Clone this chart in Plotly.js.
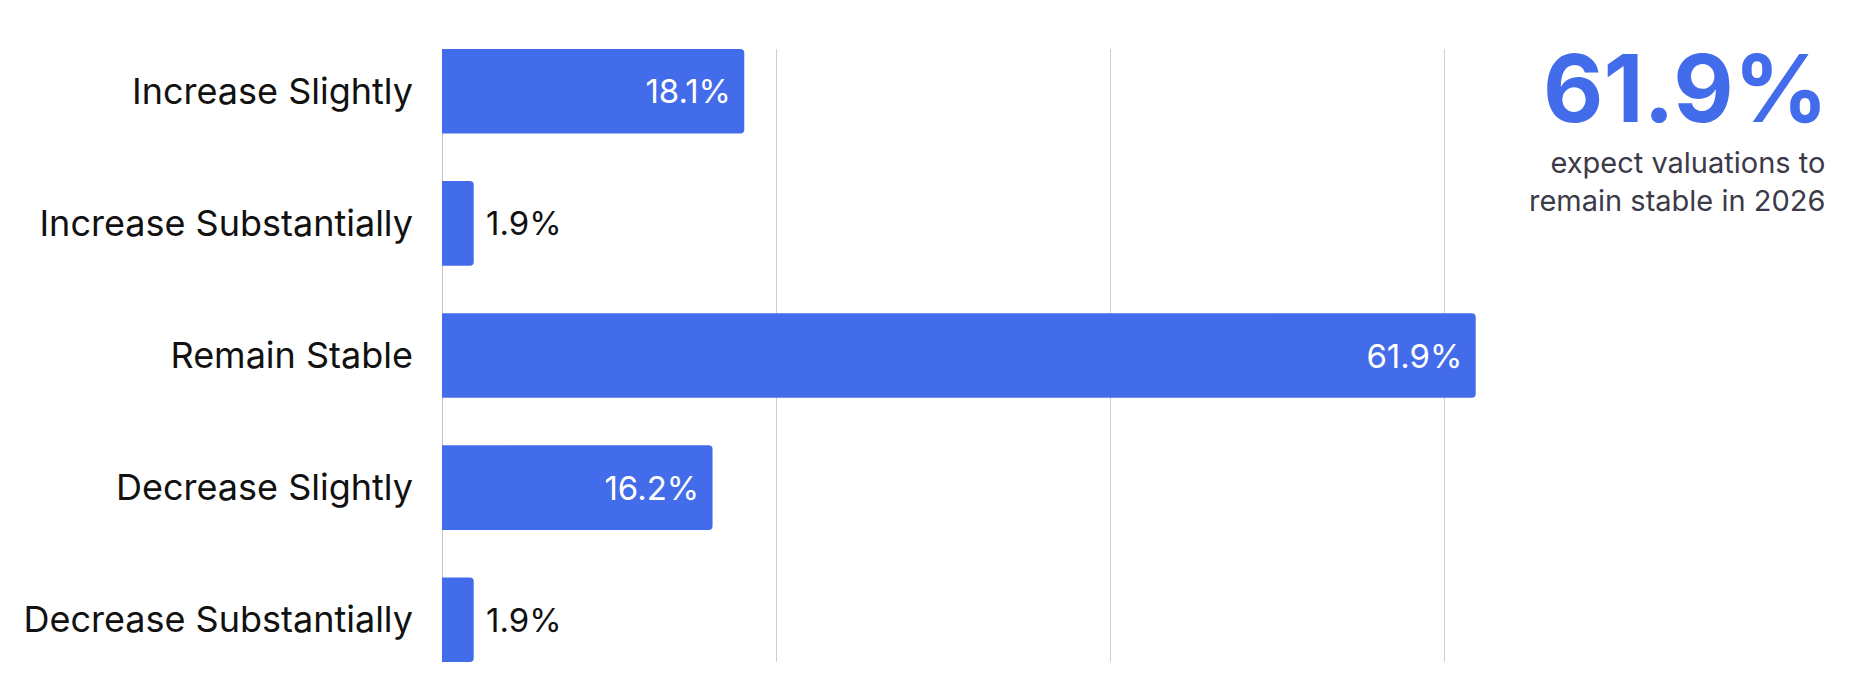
<!DOCTYPE html>
<html>
<head>
<meta charset="utf-8">
<script src="https://cdn.plot.ly/plotly-3.0.1.min.js"></script>
<style>
  html, body { margin: 0; padding: 0; background: #ffffff; }
  #chart { width: 1854px; height: 674px; }
</style>
</head>
<body>
<div id="chart"></div>
<script>
// ---- data ----
const categories = [
  "Increase Slightly",
  "Increase Substantially",
  "Remain Stable",
  "Decrease Slightly",
  "Decrease Substantially"
];
const values = [18.1, 1.9, 61.9, 16.2, 1.9];
const xTicks = [0, 20, 40, 60];
const headlineValue = "61.9%";
const headlineText = "expect valuations to<br>remain stable in 2026";

// ---- styling ----
const BLUE = "#436CEB";
const NBSP = "\u00A0";
const isInside = values.map(v => v >= 10);
const labels = values.map((v, i) =>
  isInside[i] ? v.toFixed(1) + "%" + NBSP : NBSP + v.toFixed(1) + "%");
const positions = isInside.map(b => b ? "inside" : "outside");

const trace = {
  type: "bar",
  orientation: "h",
  y: categories,
  x: values,
  width: 0.64,
  marker: { color: BLUE, cornerradius: 4, line: { width: 0 } },
  text: labels,
  textposition: positions,
  insidetextanchor: "end",
  constraintext: "none",
  cliponaxis: false,
  insidetextfont: { family: "Inter, sans-serif", size: 33, color: "#ffffff" },
  outsidetextfont: { family: "Inter, sans-serif", size: 33, color: "#111111" },
  hoverinfo: "skip"
};

const layout = {
  width: 1854,
  height: 674,
  margin: { l: 442, r: 243, t: 49, b: 12, pad: 0 },
  paper_bgcolor: "#ffffff",
  plot_bgcolor: "#ffffff",
  showlegend: false,
  font: { family: "Inter, sans-serif", color: "#111111" },
  xaxis: {
    range: [0, 70],
    tickvals: xTicks,
    showticklabels: false,
    showgrid: true,
    gridcolor: "#cfcfcf",
    gridwidth: 1,
    zeroline: true,
    zerolinecolor: "#c4c4c4",
    zerolinewidth: 1,
    showline: false,
    ticks: "",
    fixedrange: true
  },
  yaxis: {
    type: "category",
    categoryorder: "array",
    categoryarray: categories,
    range: [4.32, -0.32],
    showgrid: false,
    zeroline: false,
    showline: false,
    ticks: "",
    ticklabelstandoff: 28,
    tickfont: { family: "Inter, sans-serif", size: 36, color: "#111111" },
    fixedrange: true
  },
  annotations: [
    {
      xref: "paper", yref: "paper",
      x: 1.187, y: 0.937,
      xanchor: "right", yanchor: "middle",
      text: "<b>" + headlineValue + "</b>",
      showarrow: false,
      font: { family: "Inter, sans-serif", size: 93, color: BLUE, weight: 800 }
    },
    {
      xref: "paper", yref: "paper",
      x: 1.1844, y: 0.7835,
      xanchor: "right", yanchor: "middle",
      align: "right",
      text: headlineText,
      showarrow: false,
      font: { family: "Inter, sans-serif", size: 29, color: "#3b3b48" }
    }
  ]
};

Plotly.newPlot("chart", [trace], layout, { displayModeBar: false, staticPlot: true });
</script>
</body>
</html>
